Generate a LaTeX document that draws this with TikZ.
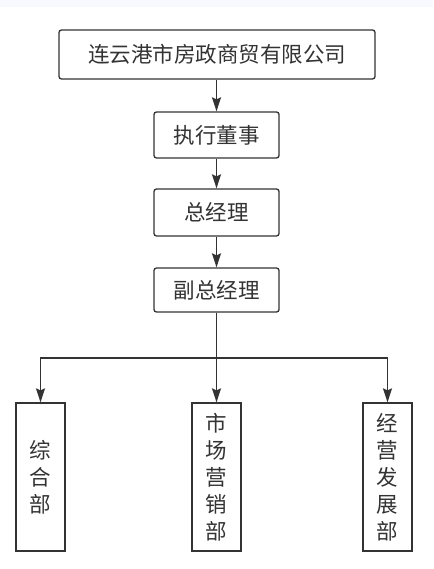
\documentclass[tikz,border=0pt]{standalone}
\usepackage{fontspec}
\newfontfamily\cjk{Noto Sans CJK SC}
\usetikzlibrary{arrows.meta}
\definecolor{linec}{HTML}{333333}
\definecolor{bandc}{HTML}{F8F9FE}
\newcommand*{\pagew}{433}
\newcommand*{\pageh}{569}
\newcommand*{\cx   }{216.5}
\newcommand*{\bary }{358}

\begin{document}
\begin{tikzpicture}[x=1pt, y=-1pt, font=\cjk\fontsize{21.5}{27}\selectfont,
    box/.style  = {draw=linec, line width=1.3pt, rounded corners=2.5pt, text=linec, inner sep=0pt},
    dept/.style = {draw=linec, line width=1.3pt, text=linec, inner sep=0pt, align=center,
                   minimum width=49pt, minimum height=148pt},
    link/.style = {draw=linec, line width=1.3pt, -{Stealth[length=14pt,width=9pt,inset=2pt]}}]
    \fill [white] (0,0) rectangle (\pagew,\pageh);
    \fill [bandc] (0,0) rectangle (\pagew,7);
        \node [box, minimum width=316pt, minimum height=49pt] (company) at (217,54.5) {连云港市房政商贸有限公司};
        \node [box, minimum width=125pt, minimum height=46pt] (director) at (\cx,135) {执行董事};
        \node [box, minimum width=125pt, minimum height=47pt] (manager) at (\cx,212.5) {总经理};
        \node [box, minimum width=125pt, minimum height=44pt] (deputy) at (\cx,290) {副总经理};
        \node [dept] (general) at (40.5,477) {综\\合\\部};
        \node [dept] (market) at (\cx,477) {市\\场\\营\\销\\部};
        \node [dept] (develop) at (387.5,477) {经\\营\\发\\展\\部};
        \draw [link] (company.south -| director.north) -- (director);
        \draw [link] (director) -- (manager);
        \draw [link] (manager) -- (deputy);
        \draw [link] (deputy) -- (market);
        \draw [link] (deputy.south) |- (\cx,\bary) -| (general.north);
        \draw [link] (deputy.south) |- (\cx,\bary) -| (develop.north);
    \end{tikzpicture}
\end{document}
